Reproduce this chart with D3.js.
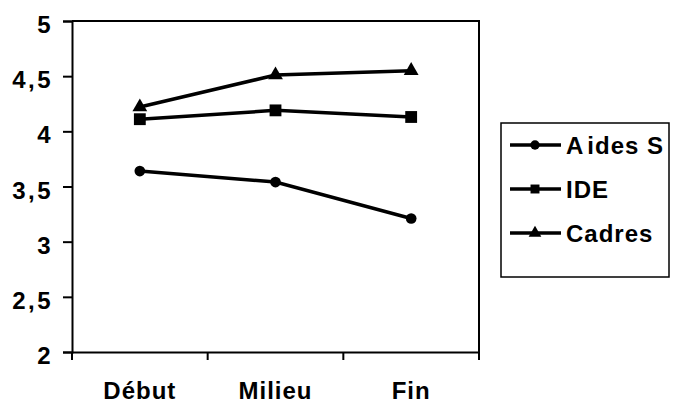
<!DOCTYPE html>
<html>
<head>
<meta charset="utf-8">
<script src="https://cdn.jsdelivr.net/npm/d3@7"></script>
<style>
  body { margin: 0; background: #fff; }
  svg { display: block; font-family: "Liberation Sans", Arial, sans-serif; font-weight: bold; }
</style>
</head>
<body>
<svg id="chart" width="678" height="403"></svg>
<script>
// Periods on the horizontal axis
const periods = ["Début", "Milieu", "Fin"];
// Mean score per group and period
const aidesS = [3.64, 3.54, 3.21];
const ide = [4.11, 4.19, 4.13];
const cadres = [4.22, 4.51, 4.55];
const seriesNames = ["Aides S", "IDE", "Cadres"];
const yTicks = [2, 2.5, 3, 3.5, 4, 4.5, 5];

const series = [
  { name: seriesNames[0], values: aidesS, symbol: d3.symbolCircle, size: 90, legendSize: 70 },
  { name: seriesNames[1], values: ide, symbol: d3.symbolSquare, size: 140, legendSize: 80 },
  { name: seriesNames[2], values: cadres, symbol: d3.symbolTriangle, size: 95, legendSize: 70 }
];

const FONT = "Liberation Sans, Arial, sans-serif";
const svg = d3.select("#chart");
const plot = { left: 72, right: 479, top: 21, bottom: 352 };

const x = d3.scaleBand().domain(periods).range([plot.left, plot.right]);
const y = d3.scaleLinear().domain([2, 5]).range([plot.bottom, plot.top]);

// Plot frame (top and right edges)
svg.append("path")
  .attr("d", `M${plot.left},${plot.top}H${plot.right}V${plot.bottom}`)
  .attr("fill", "none").attr("stroke", "#000").attr("stroke-width", 2);

// Y axis
const yAxis = svg.append("g")
  .attr("transform", `translate(${plot.left},0)`)
  .call(d3.axisLeft(y).tickValues(yTicks).tickSize(9).tickPadding(10)
    .tickFormat(d => String(d).replace(".", ",")));
yAxis.select(".domain").attr("stroke-width", 2);
yAxis.selectAll(".tick line").attr("stroke-width", 2);
yAxis.selectAll("text").attr("font-size", 24).attr("font-weight", "bold")
  .attr("font-family", FONT).attr("fill", "#000")
  .attr("letter-spacing", 2.5).attr("dy", "0.48em");

// X axis with ticks at category boundaries
const xAxis = svg.append("g")
  .attr("transform", `translate(0,${plot.bottom})`)
  .call(d3.axisBottom(x).tickSize(0).tickPadding(30));
xAxis.select(".domain").attr("stroke-width", 2);
xAxis.selectAll("text").attr("font-size", 24).attr("font-weight", "bold")
  .attr("font-family", FONT).attr("fill", "#000").attr("letter-spacing", 1);
const bounds = periods.map(p => x(p)).concat([x(periods[periods.length - 1]) + x.bandwidth()]);
svg.append("g").selectAll("line").data(bounds).join("line")
  .attr("x1", d => d).attr("x2", d => d)
  .attr("y1", plot.bottom).attr("y2", plot.bottom + 8)
  .attr("stroke", "#000").attr("stroke-width", 2);

// Lines and markers
const cx = p => x(p) + x.bandwidth() / 2;
const line = d3.line().x((d, i) => cx(periods[i])).y(d => y(d));

series.forEach(s => {
  svg.append("path")
    .attr("d", line(s.values))
    .attr("fill", "none").attr("stroke", "#000").attr("stroke-width", 3.5);
  svg.append("g").selectAll("path").data(s.values).join("path")
    .attr("transform", (d, i) => `translate(${cx(periods[i])},${y(d)})`)
    .attr("d", d3.symbol().type(s.symbol).size(s.size))
    .attr("fill", "#000");
});

// Legend
const legend = svg.append("g");
legend.append("rect")
  .attr("x", 501).attr("y", 123).attr("width", 168).attr("height", 154)
  .attr("fill", "#fff").attr("stroke", "#000").attr("stroke-width", 1.5);
const rowY = [145, 189, 233];
series.forEach((s, i) => {
  const g = legend.append("g").attr("transform", `translate(0,${rowY[i]})`);
  g.append("line").attr("x1", 510).attr("x2", 561).attr("y1", 0).attr("y2", 0)
    .attr("stroke", "#000").attr("stroke-width", 3.5);
  g.append("path").attr("transform", "translate(535,0)")
    .attr("d", d3.symbol().type(s.symbol).size(s.legendSize)).attr("fill", "#000");
  const t = g.append("text").attr("x", 566).attr("y", 8.5).attr("font-size", 24)
    .attr("font-family", FONT).attr("letter-spacing", 1);
  // Wider gap after the leading capital "A"
  if (s.name.startsWith("A")) {
    t.append("tspan").text(s.name.slice(0, 1));
    t.append("tspan").attr("dx", 3).text(s.name.slice(1));
  } else {
    t.text(s.name);
  }
});
</script>
</body>
</html>
